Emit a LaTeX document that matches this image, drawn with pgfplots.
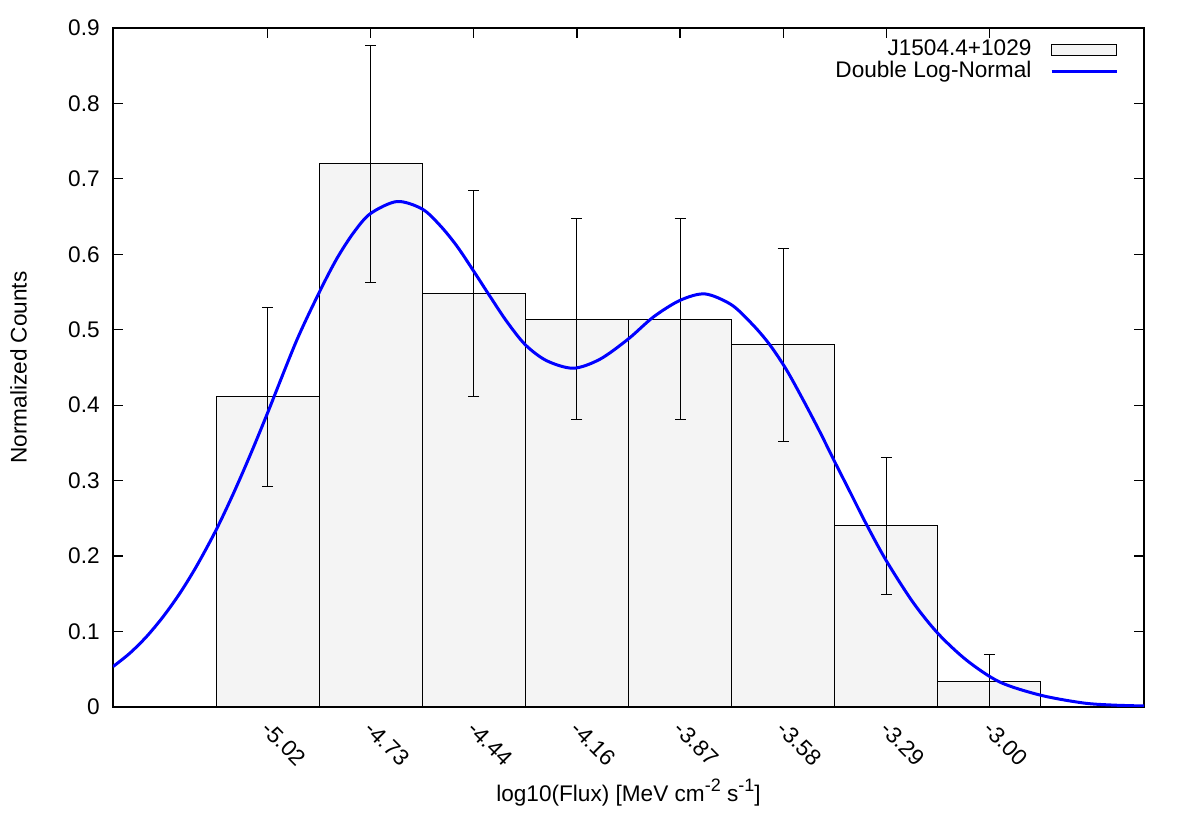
\documentclass[border=0pt]{standalone}
\usepackage{fontspec}
\setmainfont{Liberation Sans}
\usepackage{pgfplots}
\pgfplotsset{compat=1.18}
\usetikzlibrary{calc}
\definecolor{barfill}{HTML}{F4F4F4}
\definecolor{fitblue}{HTML}{0000FF}
\newcommand{\upidx}[1]{\raisebox{0.85ex}{\fontsize{9}{10}\selectfont #1}}

\begin{document}
\fontsize{11.3}{13.5}\selectfont
\begin{tikzpicture}
\begin{axis}[
  name=ax,
  scale only axis,
  width=515.5pt, height=339.5pt,
  xmin=-1.5, xmax=8.5, ymin=0, ymax=0.9,
  xtick={0,1,2,3,4,5,6,7},
  xticklabels={-5.02,-4.73,-4.44,-4.16,-3.87,-3.58,-3.29,-3.00},
  ytick={0,0.1,0.2,0.3,0.4,0.5,0.6,0.7,0.8,0.9},
  /pgf/number format/assume math mode=true,
  tick align=inside,
  major tick length=5pt,
  tick style={black, line width=0.6pt},
  axis line style={black, line width=0.9pt},
  xticklabel style={yshift=-9pt, xshift=-1pt, rotate=-45, anchor=west, inner sep=0pt},
  yticklabel style={xshift=-2.7pt},
  xlabel={log10(Flux) [MeV cm\upidx{-2} s\upidx{-1}]},
  xlabel style={at={(axis description cs:0.5,0)}, anchor=base, yshift=-47.3pt, inner sep=0pt},
  ylabel={Normalized Counts},
  ylabel style={at={(axis description cs:-0.0832,0.5)}, anchor=south, inner sep=0pt},
  legend cell align=right,
  legend plot pos=right,
  legend style={draw=none, fill=none, inner sep=0pt, outer sep=0pt,
    at={(axis description cs:0.9748,0.9835)}, anchor=north east,
    column sep=9pt,
    nodes={inner sep=0.3pt, text height=8pt, text depth=2.2pt}},
]
\addplot[ybar, bar width=1, fill=barfill, draw=black, line width=0.5pt,
  legend image code/.code={\draw[black, line width=0.5pt, fill=barfill] (0pt,-2.9pt) rectangle (32.5pt,2.9pt);},
  error bars/.cd, y dir=both, y explicit,
  error bar style={black, line width=0.5pt},
  error mark options={rotate=90, mark size=2.75pt, black, line width=0.5pt}]
  table[x=x, y=y, y error=e] {
  x y e
  0 0.411 0.119
  1 0.720 0.157
  2 0.548 0.137
  3 0.514 0.133
  4 0.514 0.133
  5 0.480 0.128
  6 0.240 0.091
  7 0.034 0.035
};
\addplot[fitblue, line width=1.5pt, smooth,
  legend image code/.code={\draw[fitblue, line width=1.5pt] (0pt,0pt) -- (32.5pt,0pt);}]
  coordinates {
  (-1.5,0.0535) (-1.338,0.0711) (-1.175,0.0932) (-1.013,0.1198) (-0.851,0.1508)
  (-0.688,0.187) (-0.5,0.2346) (-0.331,0.2833) (-0.169,0.334) (0.0,0.390)
  (0.282,0.486) (0.513,0.553) (0.674,0.595) (0.835,0.629) (0.997,0.654)
  (1.255,0.670) (1.5,0.660) (1.674,0.638) (1.835,0.611) (1.997,0.578)
  (2.158,0.544) (2.319,0.511) (2.5,0.480) (2.706,0.459) (2.965,0.449)
  (3.224,0.461) (3.5,0.488) (3.742,0.517) (4.0,0.539) (4.242,0.5475)
  (4.5,0.533) (4.71,0.506) (4.871,0.480) (5.032,0.447) (5.194,0.407)
  (5.355,0.365) (5.5,0.325) (5.645,0.286) (5.806,0.2425) (6.0,0.194)
  (6.258,0.139) (6.5,0.0977) (6.78,0.0619) (7.10,0.0331) (7.5,0.0155)
  (7.911,0.0053) (8.2,0.0025) (8.5,0.0013)
};
\legend{J1504.4+1029, Double Log-Normal}
\end{axis}
\pgfresetboundingbox
\path ($(ax.south west)+(-56.5pt,-61.5pt)$) rectangle ($(ax.north east)+(21pt,14pt)$);
\end{tikzpicture}
\end{document}
